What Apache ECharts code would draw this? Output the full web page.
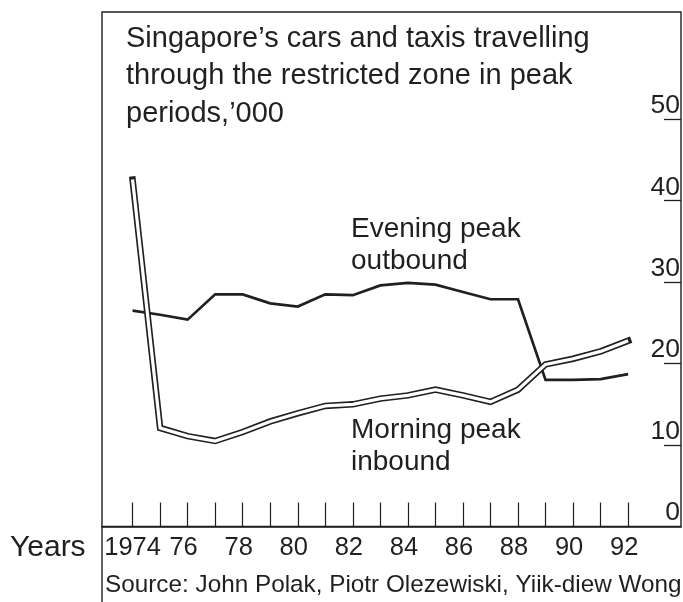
<!DOCTYPE html>
<html>
<head>
<meta charset="utf-8">
<script src="https://cdn.jsdelivr.net/npm/echarts@6.0.0/dist/echarts.min.js"></script>
<style>
  html, body { margin: 0; padding: 0; background: #fff; }
  #box { width: 683px; height: 602px; }
</style>
</head>
<body>
<div id="box"></div>
<script>
// data, '000 vehicles
const years = [1974, 1975, 1976, 1977, 1978, 1979, 1980, 1981, 1982, 1983,
               1984, 1985, 1986, 1987, 1988, 1989, 1990, 1991, 1992]
const evening = [26.5, 26.0, 25.4, 28.5, 28.5, 27.4, 27.0, 28.5, 28.4, 29.6,
                 29.9, 29.7, 28.8, 27.9, 27.9, 18.0, 18.0, 18.1, 18.7]
const morning = [42.6, 12.1, 11.1, 10.5, 11.6, 12.9, 13.9, 14.8, 15.0, 15.7,
                 16.1, 16.8, 16.1, 15.3, 16.8, 19.9, 20.6, 21.5, 22.8]
const yearLabels = [1974, 1976, 1978, 1980, 1982, 1984, 1986, 1988, 1990, 1992]
const valueLabels = [0, 10, 20, 30, 40, 50]

const ink = '#231f20'
const font = 'Liberation Sans, Arial, Helvetica, sans-serif'

const pairs = arr => years.map((y, i) => [y, arr[i]])

const myeCharts = echarts.init(document.getElementById('box'), null, {renderer: 'canvas'})

const option = {
  animation: false,
  backgroundColor: '#fff',
  textStyle: { fontFamily: font, color: ink },
  title: {
    text: 'Singapore\u2019s cars and taxis travelling\nthrough the restricted zone in peak\nperiods,\u2019000',
    left: 126,
    top: 20,
    padding: 0,
    textStyle: { fontSize: 29, lineHeight: 37.5, fontWeight: 'normal', color: ink, fontFamily: font }
  },
  grid: {
    left: 102, top: 12, right: 0, bottom: 75.5,
    show: true, borderColor: ink, borderWidth: 1.4, backgroundColor: 'transparent'
  },
  xAxis: {
    type: 'value',
    min: 1972.89,
    max: 1993.92,
    splitLine: { show: false },
    axisLine: { show: true, lineStyle: { color: ink, width: 1.6 } },
    axisTick: {
      show: true, inside: true, length: 24,
      customValues: years,
      lineStyle: { color: ink, width: 1.2 }
    },
    axisLabel: {
      customValues: yearLabels,
      margin: 8,
      fontSize: 25.5,
      color: ink,
      fontFamily: font,
      // short year labels sit a little left of their tick
      formatter: v => v === 1974 ? '{a|1974}' : '{b|' + String(v).slice(2) + '}',
      rich: {
        a: { fontSize: 25.5, color: ink, fontFamily: font },
        b: { fontSize: 25.5, color: ink, fontFamily: font, padding: [0, 8, 0, 0] }
      }
    }
  },
  yAxis: {
    type: 'value',
    position: 'right',
    min: 0,
    max: 63.17,
    splitLine: { show: false },
    axisLine: { show: false },
    axisTick: {
      show: true, inside: true, length: 17,
      customValues: [10, 20, 30, 40, 50],
      lineStyle: { color: ink, width: 1.3 }
    },
    axisLabel: {
      inside: true,
      customValues: valueLabels,
      margin: 1,
      fontSize: 26.5,
      color: ink,
      fontFamily: font,
      verticalAlign: 'bottom'
    }
  },
  graphic: [
    // left frame line runs on past the axis to the foot of the picture
    { type: 'line', shape: { x1: 102, y1: 526, x2: 102, y2: 602 }, style: { stroke: ink, lineWidth: 1.4 } },
    { type: 'text', left: 351, top: 213,
      style: { text: 'Evening peak\noutbound', font: '28px ' + font, lineHeight: 32, fill: ink } },
    { type: 'text', left: 351, top: 414,
      style: { text: 'Morning peak\ninbound', font: '28px ' + font, lineHeight: 32, fill: ink } },
    { type: 'text', left: 10, top: 533,
      style: { text: 'Years', font: '30px ' + font, fill: ink } },
    { type: 'text', left: 105, top: 573,
      style: { text: 'Source: John Polak, Piotr Olezewiski, Yiik-diew Wong', font: '24.3px ' + font, fill: ink } }
  ],
  series: [
    {
      name: 'Evening peak outbound',
      type: 'line',
      data: pairs(evening),
      symbol: 'none',
      z: 2,
      lineStyle: { color: ink, width: 2.7, join: 'miter' }
    },
    {
      name: 'Morning peak inbound',
      type: 'line',
      data: pairs(morning),
      symbol: 'none',
      z: 3,
      lineStyle: { color: ink, width: 6.5, cap: 'square', join: 'miter' }
    },
    {
      name: 'Morning peak inbound (inner)',
      type: 'line',
      data: pairs(morning),
      symbol: 'none',
      z: 4,
      lineStyle: { color: '#fff', width: 3.2, cap: 'butt', join: 'miter' }
    }
  ]
}

myeCharts.setOption(option)
window.onresize = function () {
  myeCharts.resize()
}
</script>
</body>
</html>
